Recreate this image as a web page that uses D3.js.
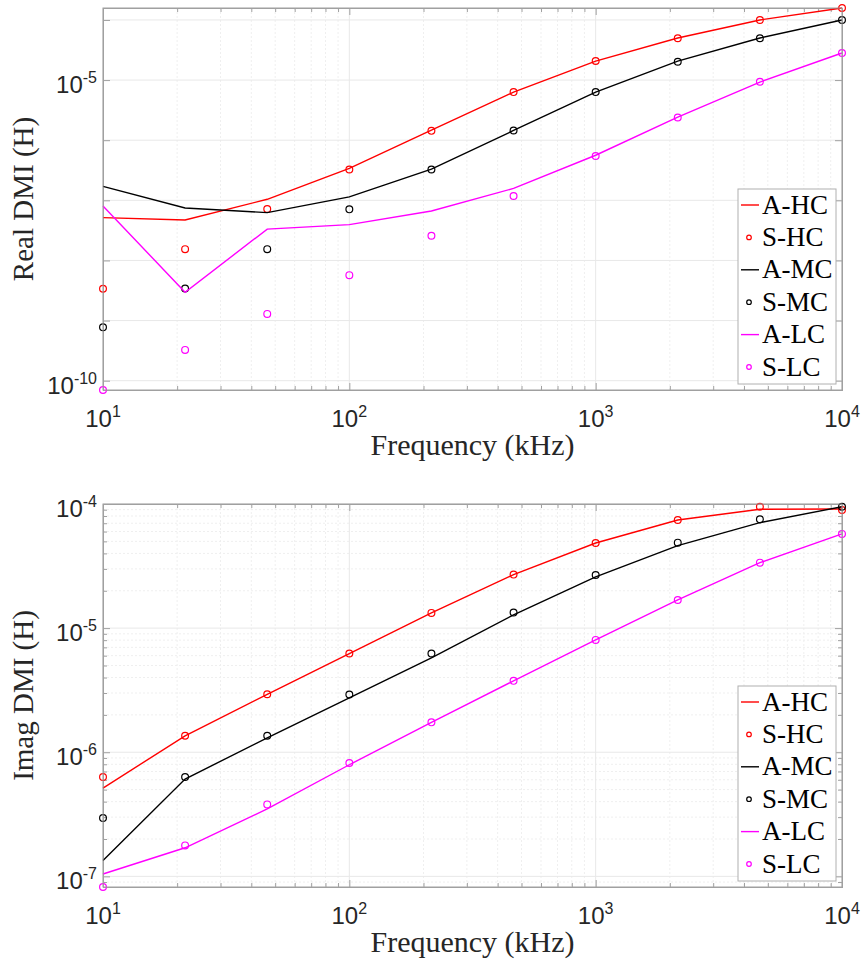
<!DOCTYPE html>
<html>
<head>
<meta charset="utf-8">
<script src="https://cdn.jsdelivr.net/npm/d3@7"></script>
<style>
  body { margin: 0; background: #fff; }
  svg { display: block; }
</style>
</head>
<body>
<div id="chart"></div>
<script>
// frequency points (kHz), log spaced
const freq = [10, 21.54, 46.42, 100, 215.4, 464.2, 1000, 2154, 4642, 10000];

// Real DMI (H)
const realAHC = [5.15e-8, 4.7e-8, 1.04e-7, 3.41e-7, 1.47e-6, 6.31e-6, 2.07e-5, 5.01e-5, 1.0e-4, 1.58e-4];
const realSHC = [3.38e-9, 1.54e-8, 7.16e-8, 3.25e-7, 1.43e-6, 6.31e-6, 2.07e-5, 4.95e-5, 1.0e-4, 1.58e-4];
const realAMC = [1.71e-7, 7.44e-8, 6.24e-8, 1.14e-7, 3.29e-7, 1.45e-6, 6.31e-6, 2.07e-5, 5.0e-5, 1.0e-4];
const realSMC = [7.73e-10, 3.41e-9, 1.54e-8, 7.08e-8, 3.25e-7, 1.45e-6, 6.31e-6, 2.02e-5, 4.95e-5, 1.0e-4];
const realALC = [8.04e-8, 2.96e-9, 3.32e-8, 3.94e-8, 6.63e-8, 1.58e-7, 5.62e-7, 2.42e-6, 9.26e-6, 2.82e-5];
const realSLC = [7.0e-11, 3.25e-10, 1.29e-9, 5.69e-9, 2.58e-8, 1.18e-7, 5.47e-7, 2.39e-6, 9.37e-6, 2.82e-5];

// Imag DMI (H)
const imagAHC = [5.14e-7, 1.357e-6, 2.93e-6, 6.24e-6, 1.326e-5, 2.7e-5, 4.85e-5, 7.43e-5, 9.06e-5, 9.11e-5];
const imagSHC = [6.31e-7, 1.357e-6, 2.93e-6, 6.24e-6, 1.326e-5, 2.7e-5, 4.85e-5, 7.43e-5, 9.51e-5, 8.95e-5];
const imagAMC = [1.345e-7, 6.08e-7, 1.307e-6, 2.745e-6, 5.76e-6, 1.278e-5, 2.585e-5, 4.62e-5, 7.07e-5, 9.51e-5];
const imagSMC = [2.95e-7, 6.31e-7, 1.357e-6, 2.917e-6, 6.24e-6, 1.334e-5, 2.68e-5, 4.88e-5, 7.53e-5, 9.51e-5];
const imagALC = [1.045e-7, 1.7e-7, 3.49e-7, 7.93e-7, 1.742e-6, 3.76e-6, 8.04e-6, 1.687e-5, 3.37e-5, 5.74e-5];
const imagSLC = [8.21e-8, 1.776e-7, 3.8e-7, 8.18e-7, 1.742e-6, 3.76e-6, 8.04e-6, 1.687e-5, 3.37e-5, 5.74e-5];

const seriesNames = ["A-HC", "S-HC", "A-MC", "S-MC", "A-LC", "S-LC"];
const seriesColors = ["#ff0000", "#ff0000", "#000000", "#000000", "#ff00ff", "#ff00ff"];

// axis limits and labelled ticks
const xLim = [10, 10000];
const xTickLabels = [10, 100, 1000, 10000];
const realYLim = [7.0e-11, 1.58e-4];
const realYTickLabels = [1e-10, 1e-5];
const imagYLim = [8.21e-8, 1e-4];
const imagYTickLabels = [1e-7, 1e-6, 1e-5, 1e-4];

const W = 862, H = 964;
const plotLeft = 103, plotRight = 842;
const serif = "'Liberation Serif', 'Times New Roman', serif";
const sans = "'Liberation Sans', Arial, Helvetica, sans-serif";

const svg = d3.select("#chart").append("svg")
    .attr("width", W)
    .attr("height", H);

const decadesIn = ([lo, hi]) => d3.range(Math.ceil(Math.log10(lo) - 1e-9), Math.floor(Math.log10(hi) + 1e-9) + 1)
    .map(p => Math.pow(10, p));
const minorsIn = ([lo, hi]) => {
    const out = [];
    for (let p = Math.floor(Math.log10(lo)); p <= Math.ceil(Math.log10(hi)); p++)
        for (let m = 2; m <= 9; m++) {
            const v = m * Math.pow(10, p);
            if (v > lo && v < hi) out.push(v);
        }
    return out;
};

// "10" with a raised exponent
const powLabel = (sel, v) => {
    const e = Math.round(Math.log10(v));
    sel.append("tspan").text("10");
    sel.append("tspan").attr("font-size", 16).attr("dy", -10).text(e);
};

const drawPanel = (cfg) => {
    const x = d3.scaleLog().domain(xLim).range([plotLeft, plotRight]);
    const y = d3.scaleLog().domain(cfg.yLim).range([cfg.bottom, cfg.top]);
    const g = svg.append("g");

    const xMajor = decadesIn(xLim), xMinor = minorsIn(xLim);
    const yMajor = decadesIn(cfg.yLim), yMinor = cfg.yMinor ? minorsIn(cfg.yLim) : [];

    // grid
    const grid = g.append("g");
    grid.selectAll(".gxm").data(xMinor).join("line")
        .attr("x1", d => x(d)).attr("x2", d => x(d))
        .attr("y1", cfg.top).attr("y2", cfg.bottom)
        .attr("stroke", "#efefef").attr("stroke-dasharray", "2,2");
    grid.selectAll(".gym").data(yMinor).join("line")
        .attr("x1", plotLeft).attr("x2", plotRight)
        .attr("y1", d => y(d)).attr("y2", d => y(d))
        .attr("stroke", "#efefef").attr("stroke-dasharray", "2,2");
    grid.selectAll(".gx").data(xMajor).join("line")
        .attr("x1", d => x(d)).attr("x2", d => x(d))
        .attr("y1", cfg.top).attr("y2", cfg.bottom)
        .attr("stroke", "#e8e8e8");
    grid.selectAll(".gy").data(yMajor).join("line")
        .attr("x1", plotLeft).attr("x2", plotRight)
        .attr("y1", d => y(d)).attr("y2", d => y(d))
        .attr("stroke", "#e8e8e8");

    // inward ticks on all four sides
    const axisStyle = a => a.call(s => s.select(".domain").attr("stroke", "#a0a0a0"))
        .call(s => s.selectAll(".tick line").attr("stroke", "#a0a0a0"));
    const tickSets = [[xMajor, -7], [xMinor, -4]];
    tickSets.forEach(([vals, len]) => {
        g.append("g").attr("transform", `translate(0,${cfg.bottom})`)
            .call(d3.axisBottom(x).tickValues(vals).tickSize(len).tickFormat(""))
            .call(axisStyle);
        g.append("g").attr("transform", `translate(0,${cfg.top})`)
            .call(d3.axisTop(x).tickValues(vals).tickSize(len).tickFormat(""))
            .call(axisStyle);
    });
    [[yMajor, -7], [yMinor, -4]].forEach(([vals, len]) => {
        g.append("g").attr("transform", `translate(${plotLeft},0)`)
            .call(d3.axisLeft(y).tickValues(vals).tickSize(len).tickFormat(""))
            .call(axisStyle);
        g.append("g").attr("transform", `translate(${plotRight},0)`)
            .call(d3.axisRight(y).tickValues(vals).tickSize(len).tickFormat(""))
            .call(axisStyle);
    });

    // tick labels
    xTickLabels.forEach(v => {
        g.append("text")
            .attr("x", x(v)).attr("y", cfg.bottom + 37)
            .attr("text-anchor", "middle")
            .attr("font-family", sans).attr("font-size", 24).attr("fill", "#262626")
            .call(powLabel, v);
    });
    cfg.yTickLabels.forEach(v => {
        g.append("text")
            .attr("x", plotLeft - 6).attr("y", y(v) + 13)
            .attr("text-anchor", "end")
            .attr("font-family", sans).attr("font-size", 24).attr("fill", "#262626")
            .call(powLabel, v);
    });

    // axis titles
    g.append("text")
        .attr("x", (plotLeft + plotRight) / 2).attr("y", cfg.bottom + 65)
        .attr("text-anchor", "middle")
        .attr("font-family", serif).attr("font-size", 30).attr("fill", "#262626")
        .text("Frequency (kHz)");
    g.append("text")
        .attr("transform", `translate(33,${(cfg.top + cfg.bottom) / 2}) rotate(-90)`)
        .attr("text-anchor", "middle")
        .attr("font-family", serif).attr("font-size", 29).attr("fill", "#262626")
        .text(cfg.ylabel);

    // data: analytic lines and simulated circles
    const line = d3.line().x((d, i) => x(freq[i])).y(d => y(d));
    cfg.series.forEach((vals, k) => {
        if (k % 2 === 0) {
            g.append("path").datum(vals)
                .attr("d", line)
                .attr("fill", "none")
                .attr("stroke", seriesColors[k])
                .attr("stroke-width", 1.4);
        } else {
            g.append("g").selectAll("circle").data(vals).join("circle")
                .attr("cx", (d, i) => x(freq[i]))
                .attr("cy", d => y(d))
                .attr("r", 3.4)
                .attr("fill", "none")
                .attr("stroke", seriesColors[k])
                .attr("stroke-width", 1.2);
        }
    });

    // legend
    const lgW = 98, lgH = 195, rowH = 32.4;
    const lg = g.append("g")
        .attr("transform", `translate(${plotRight - 6 - lgW},${cfg.bottom - 6 - lgH})`);
    lg.append("rect")
        .attr("width", lgW).attr("height", lgH)
        .attr("fill", "#fff").attr("stroke", "#b0b0b0").attr("stroke-width", 1);
    seriesNames.forEach((name, k) => {
        const cy = 16 + k * rowH;
        if (k % 2 === 0) {
            lg.append("line")
                .attr("x1", 3).attr("x2", 21).attr("y1", cy).attr("y2", cy)
                .attr("stroke", seriesColors[k]).attr("stroke-width", 1.4);
        } else {
            lg.append("circle")
                .attr("cx", 11).attr("cy", cy).attr("r", 2.3)
                .attr("fill", "none").attr("stroke", seriesColors[k]).attr("stroke-width", 1.2);
        }
        lg.append("text")
            .attr("x", 24).attr("y", cy + 8.5)
            .attr("font-family", serif).attr("font-size", 27).attr("fill", "#000")
            .text(name);
    });

    // axes box
    g.append("rect")
        .attr("x", plotLeft).attr("y", cfg.top)
        .attr("width", plotRight - plotLeft).attr("height", cfg.bottom - cfg.top)
        .attr("fill", "none").attr("stroke", "#a0a0a0");
};

drawPanel({
    top: 8, bottom: 390,
    yLim: realYLim, yMinor: false, yTickLabels: realYTickLabels,
    ylabel: "Real DMI (H)",
    series: [realAHC, realSHC, realAMC, realSMC, realALC, realSLC]
});

drawPanel({
    top: 504, bottom: 887,
    yLim: imagYLim, yMinor: true, yTickLabels: imagYTickLabels,
    ylabel: "Imag DMI (H)",
    series: [imagAHC, imagSHC, imagAMC, imagSMC, imagALC, imagSLC]
});
</script>
</body>
</html>
